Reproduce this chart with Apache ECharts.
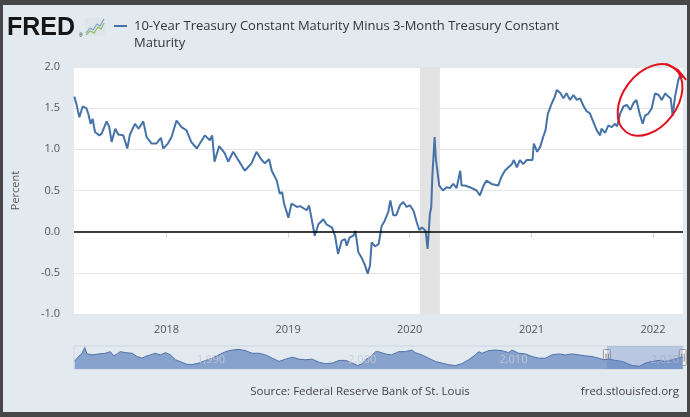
<!DOCTYPE html>
<html><head><meta charset="utf-8">
<script src="https://cdn.jsdelivr.net/npm/echarts@6/dist/echarts.min.js"></script>
<style>html,body{margin:0;padding:0;background:#e2e9ef;}#c{width:690px;height:417px;}</style>
</head><body><div id="c"></div>
<script>
const seriesTitle = ['10-Year Treasury Constant Maturity Minus 3-Month Treasury Constant', 'Maturity'];
const sourceText = 'Source: Federal Reserve Bank of St. Louis';
const siteText = 'fred.stlouisfed.org';
const yAxisName = 'Percent';

const dates = ['2017-03-30','2017-04-06','2017-04-14','2017-04-24','2017-05-05','2017-05-11','2017-05-18','2017-05-24','2017-05-31','2017-06-13','2017-06-20','2017-07-05','2017-07-13','2017-07-20','2017-07-31','2017-08-09','2017-08-24','2017-09-05','2017-09-13','2017-09-28','2017-10-09','2017-10-23','2017-11-02','2017-11-17','2017-12-01','2017-12-15','2017-12-22',
'2018-01-05','2018-01-16','2018-01-31','2018-02-15','2018-03-02','2018-03-16','2018-04-02','2018-04-11','2018-04-26','2018-05-11','2018-05-18','2018-05-25','2018-06-08','2018-06-25','2018-07-05','2018-07-20','2018-08-03','2018-08-24','2018-09-13','2018-09-28','2018-10-12','2018-10-23','2018-11-05','2018-11-13','2018-11-28','2018-12-07','2018-12-14','2018-12-20',
'2019-01-02','2019-01-11','2019-01-28','2019-02-06','2019-02-26','2019-03-05','2019-03-13','2019-03-22','2019-04-02','2019-04-17','2019-04-26','2019-05-13','2019-05-22','2019-05-31','2019-06-11','2019-06-21','2019-06-26','2019-07-05','2019-07-16','2019-07-22','2019-07-31','2019-08-09','2019-08-20','2019-08-28','2019-09-04','2019-09-09','2019-09-19','2019-09-30','2019-10-04','2019-10-09','2019-10-18','2019-10-29','2019-11-04','2019-11-13','2019-11-22','2019-12-03','2019-12-13','2019-12-23',
'2020-01-02','2020-01-13','2020-01-22','2020-01-30','2020-02-07','2020-02-18','2020-02-24','2020-03-02','2020-03-06','2020-03-09','2020-03-16','2020-03-20','2020-03-24','2020-03-30','2020-04-10','2020-04-21','2020-05-01','2020-05-11','2020-05-21','2020-06-01','2020-06-05','2020-06-15','2020-06-30','2020-07-20','2020-07-30','2020-08-10','2020-08-19','2020-09-03','2020-09-23','2020-10-02','2020-10-13','2020-10-23','2020-11-03','2020-11-09','2020-11-18','2020-11-27','2020-12-07','2020-12-18',
'2021-01-04','2021-01-08','2021-01-18','2021-01-27','2021-02-05','2021-02-12','2021-02-19','2021-03-03','2021-03-12','2021-03-18','2021-03-29','2021-04-07','2021-04-16','2021-04-27','2021-05-07','2021-05-17','2021-05-27','2021-06-07','2021-06-16','2021-06-25','2021-07-06','2021-07-16','2021-07-26','2021-07-30','2021-08-10','2021-08-20','2021-08-30','2021-09-09','2021-09-15','2021-09-24','2021-10-04','2021-10-14','2021-10-25','2021-11-03','2021-11-12','2021-11-22','2021-12-01','2021-12-08','2021-12-17','2021-12-28',
'2022-01-07','2022-01-18','2022-01-27','2022-02-07','2022-02-16','2022-02-23','2022-03-01','2022-03-08','2022-03-18','2022-03-25','2022-03-31'];

const spread = [1.64,1.54,1.39,1.52,1.50,1.43,1.31,1.37,1.21,1.17,1.19,1.34,1.27,1.09,1.25,1.18,1.17,1.01,1.18,1.31,1.25,1.34,1.15,1.07,1.07,1.14,1.01,
1.07,1.15,1.35,1.27,1.23,1.09,1.01,1.07,1.17,1.11,1.17,0.85,1.04,0.95,0.85,0.97,0.88,0.74,0.83,0.97,0.88,0.83,0.88,0.74,0.62,0.46,0.48,0.34,
0.17,0.34,0.30,0.31,0.26,0.32,0.15,-0.05,0.09,0.15,0.09,0.05,-0.05,-0.27,-0.11,-0.09,-0.17,-0.07,-0.05,0.01,-0.25,-0.31,-0.41,-0.51,-0.41,-0.13,-0.18,-0.15,-0.17,0.07,0.13,0.24,0.38,0.20,0.20,0.32,0.36,0.30,
0.32,0.25,0.12,0.02,0.05,0.01,-0.21,0.22,0.30,0.66,1.15,0.87,0.75,0.56,0.50,0.54,0.53,0.58,0.53,0.74,0.56,0.56,0.54,0.50,0.44,0.56,0.62,0.58,0.56,0.66,0.74,0.78,0.82,0.87,0.78,0.87,0.82,0.87,
0.87,1.07,0.97,1.03,1.15,1.23,1.43,1.56,1.64,1.72,1.68,1.62,1.68,1.60,1.66,1.60,1.62,1.52,1.46,1.44,1.33,1.23,1.17,1.25,1.20,1.29,1.27,1.31,1.28,1.43,1.52,1.54,1.48,1.56,1.60,1.43,1.31,1.41,1.43,1.50,
1.68,1.66,1.60,1.68,1.64,1.62,1.41,1.64,1.84,1.92,1.87];

const xRange = ['2017-03-29', '2022-04-01'];
const yearTicks = ['2018-01-01','2019-01-01','2020-01-01','2021-01-01','2022-01-01'];
const recession = ['2020-02-01', '2020-04-01'];

const navYears = [1982.05,1982.2,1982.53,1982.71,1982.86,1983.19,1983.64,1984.07,1984.4,1984.63,1984.85,1985.07,1985.4,1985.84,1986.17,1986.5,1986.72,1987.05,1987.38,1987.72,1988.05,1988.38,1988.71,1989.15,1989.48,1989.81,1990.26,1990.7,1991.14,1991.58,1992.02,1992.46,1992.91,1993.34,1993.79,1994.23,1994.67,1995.11,1995.56,1995.99,1996.44,1996.88,1997.32,1997.76,1998.21,1998.64,1999.09,1999.53,1999.97,2000.41,2000.74,2001.07,2001.29,2001.62,2001.95,
2002.13,2002.58,2003.01,2003.46,2003.9,2004.34,2004.56,2005.0,2005.44,2005.89,2006.32,2006.77,2007.21,2007.65,2008.09,2008.54,2008.75,2008.97,2009.42,2009.86,2010.3,2010.74,2010.96,2011.4,2011.85,2012.28,2012.73,2013.17,2013.61,2014.05,2014.5,2014.93,2015.38,2015.82,2016.26,2016.7,2017.03,2017.36,2017.81,2018.25,2018.93,2019.38,2019.8,2020.23,2020.68,2021.12,2021.56,2022.0,2022.25];
const navSpread = [0.75,1.58,2.83,4.33,2.67,2.42,2.67,2.83,3.25,2.17,2.67,3.25,3.0,2.83,2.0,1.58,2.0,2.42,2.83,2.42,3.0,2.42,1.17,0.5,0.0,-0.08,0.33,1.0,1.58,2.42,3.25,3.67,3.83,3.5,2.83,2.83,2.42,1.58,0.75,1.33,1.83,1.33,1.17,1.33,0.5,0.17,0.33,1.0,1.0,0.33,-0.33,0.17,1.17,2.0,3.25,
3.25,2.67,2.42,3.25,3.25,3.67,3.0,2.42,1.58,0.75,0.33,-0.08,-0.33,0.17,1.17,2.42,3.25,2.83,3.5,3.67,3.5,3.0,3.67,2.83,2.67,2.0,1.58,1.58,2.42,2.67,2.42,2.67,2.42,2.17,2.0,1.58,1.17,1.33,1.0,0.75,-0.33,-0.5,0.33,0.75,1.0,0.75,1.17,1.58,1.9];
const navRange = [1982.0, 2022.27];
const navLabels = [1990, 2000, 2010, 2020];
const navSelection = [2017.24, 2022.25];

const ts = d => new Date(d + 'T00:00:00').getTime();
const chart = echarts.init(document.getElementById('c'), null, {renderer: 'canvas'});
const FONT = '"Open Sans", "Noto Sans", sans-serif';

chart.setOption({
  backgroundColor: '#e2e9ef',
  animation: false,
  textStyle: {fontFamily: FONT},
  grid: [
    {left: 74, right: 7, top: 67, height: 247, show: true, backgroundColor: '#ffffff', borderWidth: 0},
    {left: 74, right: 7, top: 346, height: 23, show: true, backgroundColor: 'rgba(0,0,0,0)', borderColor: '#cdd6e0', borderWidth: 1}
  ],
  xAxis: [
    {type: 'value', gridIndex: 0, min: ts(xRange[0]), max: ts(xRange[1]),
     axisLine: {show: false}, splitLine: {show: false},
     axisTick: {show: true, customValues: yearTicks.map(ts), length: 6, lineStyle: {color: '#ccd6eb'}},
     axisLabel: {customValues: yearTicks.map(ts), formatter: v => String(new Date(v).getFullYear()), color: '#555', fontSize: 11, margin: 10, fontFamily: FONT}},
    {type: 'value', gridIndex: 1, min: navRange[0], max: navRange[1], z: 10,
     axisLine: {show: false}, axisTick: {show: false}, splitLine: {show: false},
     axisLabel: {customValues: navLabels, inside: true, margin: 4, align: 'left', padding: [0, 0, 0, 2], color: 'rgba(196,202,210,0.9)', fontSize: 11, fontFamily: FONT}}
  ],
  yAxis: [
    {type: 'value', gridIndex: 0, min: -1, max: 2, interval: 0.5,
     name: yAxisName, nameLocation: 'middle', nameGap: 53, nameRotate: 90,
     nameTextStyle: {color: '#555', fontSize: 11, fontFamily: FONT},
     axisLabel: {formatter: v => v.toFixed(1), color: '#555', fontSize: 11, margin: 14, fontFamily: FONT},
     splitLine: {lineStyle: {color: '#e6e6e6', width: 1}},
     axisLine: {show: false}, axisTick: {show: false}},
    {type: 'value', gridIndex: 1, min: -1.2, max: 4.7, show: false}
  ],
  series: [
    {type: 'line', name: seriesTitle.join(' '), xAxisIndex: 0, yAxisIndex: 0,
     data: dates.map((d, i) => [ts(d), spread[i]]),
     showSymbol: false, silent: true,
     lineStyle: {color: '#4572a7', width: 2}, itemStyle: {color: '#4572a7'},
     markArea: {silent: true, itemStyle: {color: '#e3e3e3'}, data: [[{xAxis: ts(recession[0])}, {xAxis: ts(recession[1])}]]},
     markLine: {silent: true, symbol: 'none', label: {show: false}, lineStyle: {color: '#000', width: 1.5, type: 'solid'}, data: [{yAxis: 0}]}
    },
    {type: 'line', xAxisIndex: 1, yAxisIndex: 1, z: 1,
     data: navYears.map((y, i) => [y, navSpread[i]]),
     showSymbol: false, silent: true,
     lineStyle: {color: '#4f73a9', width: 1}, itemStyle: {color: '#4f73a9'},
     areaStyle: {color: '#86a2cd', opacity: 1, origin: 'start'}
    }
  ]
});

const sx0 = chart.convertToPixel({xAxisIndex: 1}, navSelection[0]);
const sx1 = chart.convertToPixel({xAxisIndex: 1}, navSelection[1]);
const navTop = 346, navH = 23, navMid = navTop + navH / 2;
const ec = chart.convertToPixel({gridIndex: 0}, [ts('2021-12-23'), 1.6]);

function handle(x) {
  return {type: 'group', x: x, y: navMid, z: 20, children: [
    {type: 'rect', shape: {x: -3.5, y: -8, width: 7, height: 16, r: 1}, style: {fill: '#f2f2f2', stroke: '#999', lineWidth: 1}},
    {type: 'line', shape: {x1: -1, y1: -4, x2: -1, y2: 4}, style: {stroke: '#888', lineWidth: 1}},
    {type: 'line', shape: {x1: 1.5, y1: -4, x2: 1.5, y2: 4}, style: {stroke: '#888', lineWidth: 1}}
  ]};
}

chart.setOption({
  graphic: [
    {type: 'rect', shape: {x: 0, y: 0, width: 690, height: 5}, style: {fill: '#474747'}, z: 50},
    {type: 'rect', shape: {x: 0, y: 0, width: 3, height: 417}, style: {fill: '#474747'}, z: 50},
    {type: 'rect', shape: {x: 687, y: 0, width: 3, height: 417}, style: {fill: '#474747'}, z: 50},
    {type: 'rect', shape: {x: 0, y: 412, width: 690, height: 5}, style: {fill: '#474747'}, z: 50},
    {type: 'text', x: 7, y: 28, style: {text: 'FRED', font: 'bold 25px "Liberation Sans", Arial, sans-serif', fill: '#161616', textVerticalAlign: 'middle'}, z: 10},
    {type: 'text', x: 79, y: 36, style: {text: '®', font: '5px "Liberation Sans", sans-serif', fill: '#161616', textVerticalAlign: 'middle'}, z: 10},
    {type: 'rect', shape: {x: 85, y: 18, width: 20, height: 18}, style: {fill: '#dde5e8'}, z: 10},
    {type: 'polyline', shape: {points: [[86,33],[90,28],[93,30],[97,24],[100,26],[104,19]]}, style: {stroke: '#7f9fcc', lineWidth: 1.2, fill: null}, z: 11},
    {type: 'polyline', shape: {points: [[86,35],[90,31],[94,33],[98,27],[101,29],[104,23]]}, style: {stroke: '#8fbf5a', lineWidth: 1.2, fill: null}, z: 11},
    {type: 'line', shape: {x1: 114, y1: 26, x2: 127, y2: 26}, style: {stroke: '#4572a7', lineWidth: 2}, z: 10},
    {type: 'text', x: 134, y: 26, style: {text: seriesTitle[0], font: '13px ' + FONT, fill: '#333', textVerticalAlign: 'middle'}, z: 10},
    {type: 'text', x: 134, y: 43, style: {text: seriesTitle[1], font: '13px ' + FONT, fill: '#333', textVerticalAlign: 'middle'}, z: 10},
    {type: 'text', x: 360, y: 392, style: {text: sourceText, font: '11.5px ' + FONT, fill: '#444', textAlign: 'center', textVerticalAlign: 'middle'}, z: 10},
    {type: 'text', x: 679, y: 392, style: {text: siteText, font: '11.5px ' + FONT, fill: '#444', textAlign: 'right', textVerticalAlign: 'middle'}, z: 10},
    {type: 'rect', shape: {x: sx0, y: navTop, width: sx1 - sx0, height: navH}, style: {fill: 'rgba(90,125,190,0.3)'}, z: 15},
    handle(sx0), handle(sx1),
    {type: 'ellipse', x: ec[0], y: ec[1], rotation: 0.92, shape: {cx: 0, cy: 0, rx: 40, ry: 27}, style: {stroke: '#e3101e', lineWidth: 2, fill: null}, z: 30},
    {type: 'polyline', x: ec[0], y: ec[1], shape: {points: [[16, -36], [28, -30], [36, -20]]}, style: {stroke: '#e3101e', lineWidth: 2, fill: null}, z: 30}
  ]
});
</script>
</body></html>
